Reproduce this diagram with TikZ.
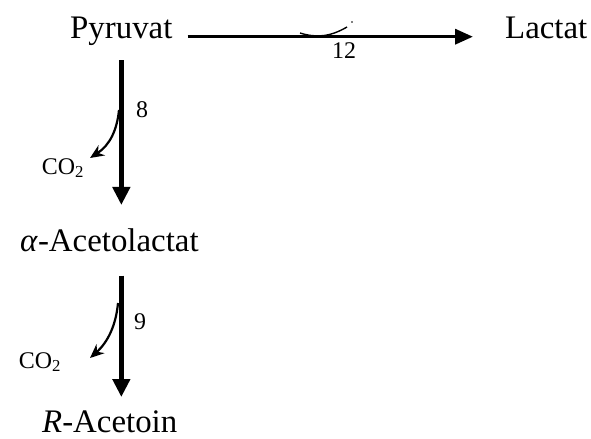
\documentclass[tikz,border=0pt]{standalone}
\usepackage{fontspec}
\setmainfont{Liberation Serif}
\usetikzlibrary{arrows.meta}
\tikzset{
  compound/.style={inner sep=0pt, anchor=base west, font=\fontsize{33}{38}\selectfont},
  enzyme/.style={inner sep=0pt, font=\fontsize{24}{28}\selectfont},
  mainflow/.style={line width=5.5bp, -{Triangle[length=18bp,width=17bp]}},
  sideflow/.style={line width=3.5bp, -{Triangle[length=18bp,width=15bp]}},
  branch/.style={line width=2.2bp, -{Stealth[length=14bp,width=12bp]}},
}
\begin{document}
\begin{tikzpicture}[x=1bp,y=-1bp]
  \useasboundingbox (0,0) rectangle (591,439);
  % compounds
  \node[compound] (pyr) at (70,39) {Pyruvat};
  \node[compound] (lac) at (505,39) {Lactat};
  \node[compound] (acl) at (20,252) {\textit{α}-Acetolactat};
  \node[compound] (rac) at (42,432) {\textit{R}-Acetoin};
  % side products
  \node[enzyme] (co1) at (63,168) {CO\textsubscript{2}};
  \node[enzyme] (co2) at (40,362) {CO\textsubscript{2}};
  % enzyme numbers
  \node[enzyme] (e12) at (344,51) {12};
  \node[enzyme] (e8) at (142,110) {8};
  \node[enzyme] (e9) at (140,322) {9};
  % pyruvate to lactate
  \draw[sideflow, shorten <=15bp, shorten >=32bp] (pyr.mid east) -- (lac.mid west);
  \draw[line width=1.4bp] (300,33) .. controls (316,38) and (330,37) .. (347,27);
  \fill (352,22) circle (0.9bp);
  % pyruvate to alpha-acetolactate to R-acetoin
  \draw[mainflow, shorten <=14bp, shorten >=24bp] (pyr.south) -- (pyr.south |- acl.north);
  \draw[mainflow, shorten <=23bp, shorten >=13bp] (pyr.south |- acl.south) -- (pyr.south |- rac.north);
  % decarboxylation branches
  \coordinate (b8) at (119,110);
  \coordinate (t8) at (90,158);
  \draw[branch] (b8) .. controls (117,130) and (110,145) .. (t8);
  \coordinate (b9) at (118,303);
  \coordinate (t9) at (90,358);
  \draw[branch] (b9) .. controls (116,325) and (108,342) .. (t9);
\end{tikzpicture}
\end{document}
